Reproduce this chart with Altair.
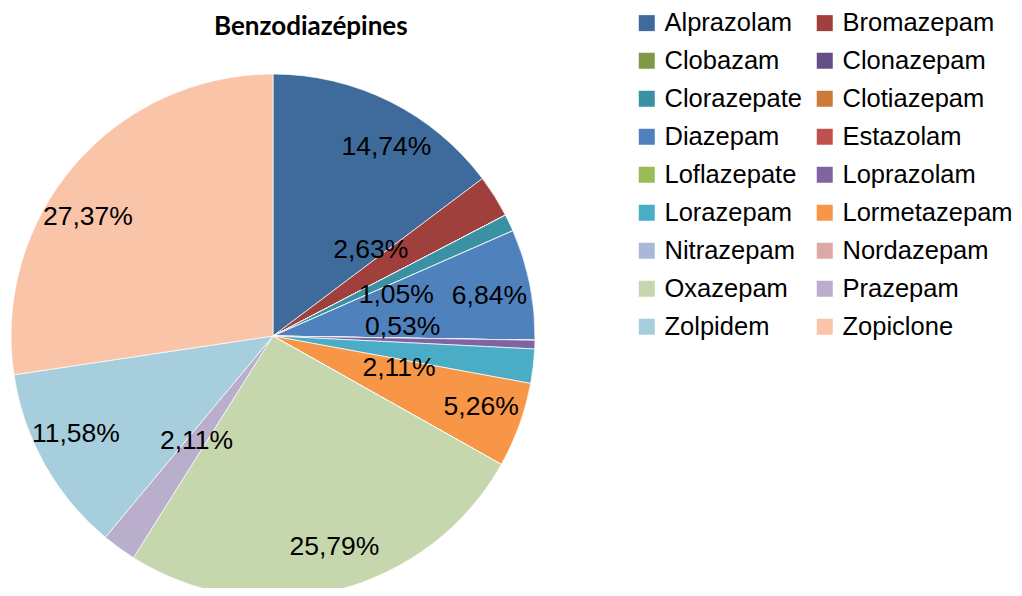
import altair as alt
import pandas as pd

drugs = ["Alprazolam", "Bromazepam", "Clobazam", "Clonazepam", "Clorazepate", "Clotiazepam",
         "Diazepam", "Estazolam", "Loflazepate", "Loprazolam", "Lorazepam", "Lormetazepam",
         "Nitrazepam", "Nordazepam", "Oxazepam", "Prazepam", "Zolpidem", "Zopiclone"]
shares = [14.74, 2.63, 0, 0, 1.05, 0,
          6.84, 0, 0, 0.53, 2.11, 5.26,
          0, 0, 25.79, 2.11, 11.58, 27.37]
colors = ["#3E6A9C", "#A0403D", "#7E9A48", "#664E86", "#3A91A4", "#CB7A38",
          "#4F81BD", "#C0504D", "#9BBB59", "#8064A2", "#4BACC6", "#F79646",
          "#A9B8D8", "#DBA9A8", "#C6D7AD", "#B9AFCD", "#A7CEDC", "#F9C4A8"]
# label angle nudges (degrees) to keep the crowded small labels apart, as in the original
label_nudge_deg = [4.5, -9, 0, 0, 7, 0,
                   1, 0, 0, -6, 7.5, -1,
                   0, 0, -2, 0, 3, -8]

total = sum(shares)
df = pd.DataFrame({"drug": drugs, "pct": shares, "idx": list(range(len(drugs))),
                   "nudge": label_nudge_deg})

CX, CY, R = 265, 288, 262
theta_scale = alt.Scale(domain=[0, total])

base = alt.Chart(df)

arcs = base.mark_arc(radius=R, stroke="white", strokeWidth=0.7).encode(
    theta=alt.Theta("pct:Q", stack=True, scale=theta_scale),
    order=alt.Order("idx:Q"),
    color=alt.Color(
        "drug:N",
        scale=alt.Scale(domain=drugs, range=colors),
        sort=drugs,
        legend=alt.Legend(
            title=None,
            orient="none",
            legendX=626,
            legendY=-38,
            direction="horizontal",
            columns=2,
            columnPadding=10,
            rowPadding=11,
            symbolType="square",
            symbolSize=256,
            symbolStrokeWidth=0,
            labelFont="Liberation Sans",
            labelFontSize=25.5,
            labelColor="black",
            labelOffset=5,
            labelLimit=300,
        ),
    ),
    x=alt.value(CX),
    y=alt.value(CY),
)

lab_base = base.transform_window(
    cum="sum(pct)", sort=[alt.SortField("idx")], frame=[None, 0]
).transform_calculate(
    ang=f"datum.cum - datum.pct / 2 + datum.nudge / 360 * {total}",
    lab="replace(format(datum.pct, '.2f'), '.', ',') + '%'",
)

def label_layer(cond, radius):
    return lab_base.transform_filter(cond).mark_text(
        font="Liberation Sans", fontSize=26.5, color="black",
        align="center", baseline="middle", radius=radius,
    ).encode(
        theta=alt.Theta("ang:Q", stack=None, scale=theta_scale),
        text="lab:N",
        x=alt.value(CX),
        y=alt.value(CY),
    )

big_labels = label_layer("datum.pct >= 3", 220)
small_labels = label_layer("datum.pct > 0 && datum.pct < 3", 130)

chart = alt.layer(arcs, big_labels, small_labels).properties(
    width=1006,
    height=540,
    autosize="none",
    padding={"left": 0, "top": 40, "right": 0, "bottom": 0},
    title=alt.TitleParams(
        "Benzodiazépines",
        anchor="start",
        frame="group",
        dx=206,
        offset=-51,
        baseline="alphabetic",
        font="Lato",
        fontSize=26,
        fontWeight="bold",
        color="black",
    ),
).configure_view(stroke=None)

chart.save("out.html", embed_options={"renderer": "svg", "actions": False})
